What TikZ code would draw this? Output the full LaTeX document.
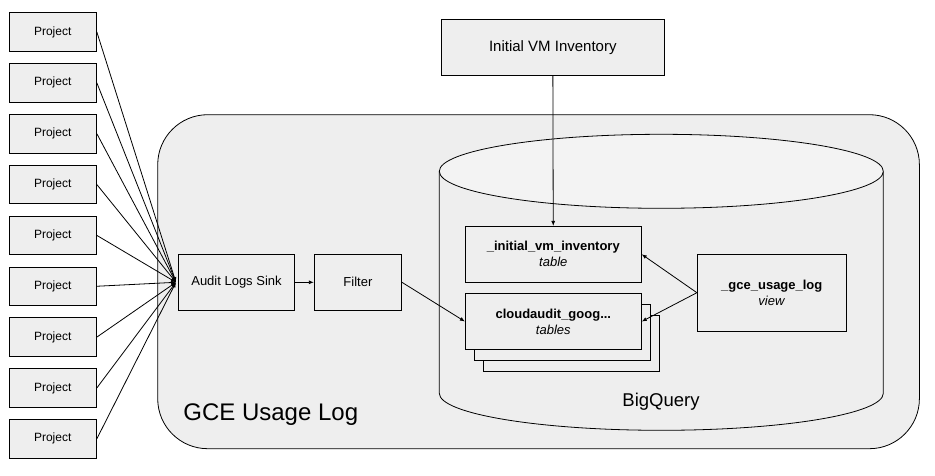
\documentclass[tikz,border=0pt]{standalone}
\usepackage{fontspec}
\setmainfont{Liberation Sans}
\usetikzlibrary{positioning,arrows.meta}

\definecolor{boxgray}{HTML}{EEEEEE}
\definecolor{capgray}{HTML}{F3F3F3}

\begin{document}
\begin{tikzpicture}
[x=1pt,y=-1pt,line width=0.8pt,
 box/.style={draw,fill=boxgray,inner sep=0pt,align=center,font=\fontsize{13}{16}\selectfont},
 proj/.style={box,minimum width=87.5pt,minimum height=38.5pt,font=\fontsize{12}{14}\selectfont},
 tbl/.style={box,minimum width=176pt,minimum height=56pt},
 arr/.style={-{Latex[length=5pt,width=4pt]}}]
\useasboundingbox (0,0) rectangle (935,476);

% container and BigQuery can
\node[draw,fill=boxgray,rounded corners=50pt,anchor=north west,minimum width=761.7pt,minimum height=334pt](gce) at (157.3,114.3){};
\node[anchor=base west,inner sep=0pt,font=\fontsize{24}{28}\selectfont](gcelabel) at (183,420){GCE Usage Log};
\draw[fill=boxgray] (439.3,171.3) -- (439.3,393.3) arc[start angle=180,end angle=360,x radius=222pt,y radius=37pt] -- (883.3,171.3);
\draw[fill=capgray] (661.3,171.3) ellipse[x radius=222pt,y radius=37pt];
\node[font=\fontsize{18.5}{22}\selectfont](bq) at (661,402){BigQuery};

% projects
\node[proj](p1) at (52.7,32){Project};
\node[proj,below=11.55pt of p1](p2){Project};
\node[proj,below=11.55pt of p2](p3){Project};
\node[proj,below=11.55pt of p3](p4){Project};
\node[proj,below=11.55pt of p4](p5){Project};
\node[proj,below=11.55pt of p5](p6){Project};
\node[proj,below=11.55pt of p6](p7){Project};
\node[proj,below=11.55pt of p7](p8){Project};
\node[proj,below=11.55pt of p8](p9){Project};

\node[box,minimum width=116.3pt,minimum height=56pt](sink) at (236.5,282.3){Audit Logs Sink};
\node[box,minimum width=87.3pt,minimum height=56pt,right=18.8pt of sink](filter){Filter};
\node[box,minimum width=223pt,minimum height=56pt,font=\fontsize{15}{18}\selectfont](init) at (552.8,47.3){Initial VM Inventory};

% tables
\node[tbl](inv) at (553.3,254.3){\textbf{\_initial\_vm\_inventory}\\\textit{table}};
\node[tbl](aud3) at (571.7,343.8){};
\node[tbl](aud2) at (562.3,332.3){};
\node[tbl](aud) at (553.3,321.5){\textbf{cloudaudit\_goog...}\\\textit{tables}};
\node[box,minimum width=149pt,minimum height=76.7pt](view) at (771.8,292.7){\textbf{\_gce\_usage\_log}\\\textit{view}};

\coordinate[left=2pt of sink.west](j);
\foreach \i in {1,...,9} \path[arr] (p\i.east) edge (j);
\path[arr] (sink) edge (filter);
\path[arr] (filter.east) edge (aud.west);
\path[arr] (init) edge (inv);
\path[arr] (view.west) edge (inv.east);
\path[arr] (view.west) edge (aud.east);
\end{tikzpicture}
\end{document}
